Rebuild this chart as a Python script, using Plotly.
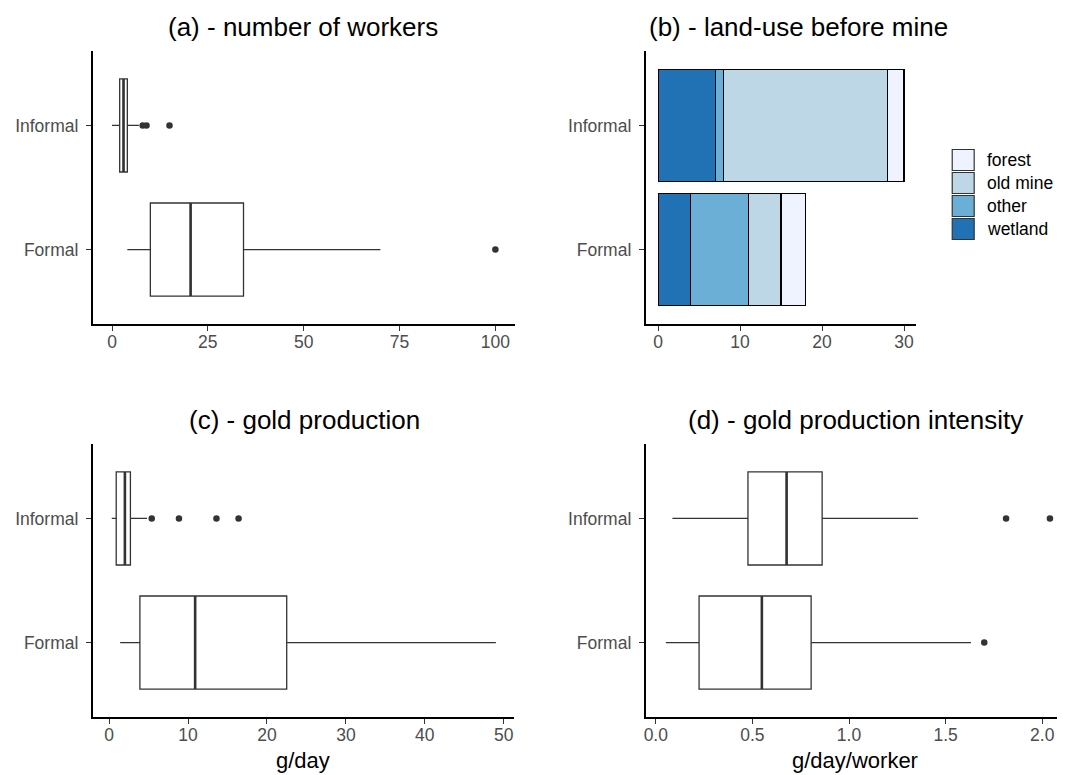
import plotly.graph_objects as go

W, H = 1065, 775
OFF = 8  # page body margin in the browser

groups = ["Formal", "Informal"]
group_pos = [1, 2]

# (a) number of workers: box statistics per group (Formal, Informal)
workers_lf = [4, 0]
workers_q1 = [10, 2]
workers_med = [20.5, 3]
workers_q3 = [34.3, 4]
workers_uf = [70, 7]
workers_out = [[100], [8, 9, 15]]

# (b) land-use before mine (counts)
landuse_cats = ["wetland", "other", "old mine", "forest"]
landuse_colors = ["#2171b5", "#6baed6", "#bdd7e7", "#eff3ff"]
landuse_formal = [4, 7, 4, 3]
landuse_informal = [7, 1, 20, 2]

# (c) gold production g/day
prod_lf = [1.4, 0.34]
prod_q1 = [3.9, 0.9]
prod_med = [10.9, 2.0]
prod_q3 = [22.5, 2.7]
prod_uf = [49.0, 4.8]
prod_out = [[], [5.4, 8.85, 13.6, 16.4]]

# (d) gold production intensity g/day/worker
int_lf = [0.052, 0.086]
int_q1 = [0.224, 0.477]
int_med = [0.549, 0.677]
int_q3 = [0.804, 0.861]
int_uf = [1.631, 1.357]
int_out = [[1.70], [1.813, 2.04]]

titles = ["(a) - number of workers", "(b) - land-use before mine",
          "(c) - gold production", "(d) - gold production intensity"]
xtitles = ["g/day", "g/day/worker"]

FONT = "Liberation Sans, Arial, Helvetica, sans-serif"
BOXW = 0.75
LINE = "#333333"

def px(x):
    return (x - OFF) / W

def py(y):
    return 1 - (y - OFF) / H

fig = go.Figure()

def add_boxes(xa, ya, lf, q1, med, q3, uf, outs):
    fig.add_trace(go.Box(
        y=group_pos, q1=q1, median=med, q3=q3, lowerfence=lf, upperfence=uf,
        orientation="h", width=BOXW, whiskerwidth=0, fillcolor="white",
        line=dict(color=LINE, width=1.3), boxpoints=False, hoverinfo="skip",
        xaxis=xa, yaxis=ya, showlegend=False))
    for p, m in zip(group_pos, med):
        fig.add_trace(go.Scatter(
            x=[m, m], y=[p - BOXW / 2, p + BOXW / 2], mode="lines",
            line=dict(color=LINE, width=2.6), xaxis=xa, yaxis=ya,
            showlegend=False, hoverinfo="skip"))
    ox, oy = [], []
    for p, o in zip(group_pos, outs):
        ox += o
        oy += [p] * len(o)
    fig.add_trace(go.Scatter(
        x=ox, y=oy, mode="markers", marker=dict(color=LINE, size=6.5),
        xaxis=xa, yaxis=ya, showlegend=False, hoverinfo="skip",
        cliponaxis=False))

add_boxes("x", "y", workers_lf, workers_q1, workers_med, workers_q3, workers_uf, workers_out)
add_boxes("x3", "y3", prod_lf, prod_q1, prod_med, prod_q3, prod_uf, prod_out)
add_boxes("x4", "y4", int_lf, int_q1, int_med, int_q3, int_uf, int_out)

for i, cat in enumerate(landuse_cats):
    fig.add_trace(go.Bar(
        x=[landuse_formal[i], landuse_informal[i]], y=group_pos,
        orientation="h", width=0.9, name=cat,
        marker=dict(color=landuse_colors[i], line=dict(color="black", width=1.2)),
        xaxis="x2", yaxis="y2", showlegend=False, hoverinfo="skip"))

# panel pixel boxes: (left, right, top, bottom)
panels = {
    "": (91, 513.5, 51, 324),
    "2": (645, 916, 51, 324),
    "3": (91, 513, 444, 717),
    "4": (645, 1065, 444, 717),
}
xranges = {"": [-5, 105], "2": [-1.5, 31.5], "3": [-2.06, 51.3], "4": [-0.0517, 2.118]}
xticks = {"": [0, 25, 50, 75, 100], "2": [0, 10, 20, 30],
          "3": [0, 10, 20, 30, 40, 50], "4": [0, 0.5, 1.0, 1.5, 2.0]}

layout = dict(width=W, height=H, margin=dict(l=0, r=0, t=0, b=0),
              paper_bgcolor="white", plot_bgcolor="white", barmode="stack",
              font=dict(family=FONT, color="black"), showlegend=False)

for k, (l, r, t, b) in panels.items():
    xa = "xaxis" + k
    ya = "yaxis" + k
    layout[xa] = dict(domain=[px(l), px(r)], range=xranges[k], anchor="y" + k,
                      showline=True, linecolor="black", linewidth=2,
                      ticks="outside", ticklen=5, tickwidth=1.3, tickcolor=LINE,
                      tickvals=xticks[k], tickfont=dict(size=17.5, color="#4d4d4d"),
                      tickformat=".1f" if k == "4" else None,
                      ticklabelstandoff=-4,
                      showgrid=False, zeroline=False, fixedrange=True)
    layout[ya] = dict(domain=[py(b), py(t)], range=[0.4, 2.6], anchor="x" + k,
                      showline=True, linecolor="black", linewidth=2,
                      ticks="outside", ticklen=5, tickwidth=1.3, tickcolor=LINE,
                      tickvals=group_pos, ticktext=groups,
                      tickfont=dict(size=17.5, color="#4d4d4d"),
                      ticklabelstandoff=4,
                      showgrid=False, zeroline=False, fixedrange=True)

fig.update_layout(**layout)

# titles
title_pos = [(302, 27), (798, 27), (303, 420), (855, 420)]
for txt, (x, y) in zip(titles, title_pos):
    fig.add_annotation(text=txt, x=px(x), y=py(y), xref="paper", yref="paper",
                       xanchor="center", yanchor="middle", showarrow=False,
                       font=dict(size=26, color="black", family=FONT))

for txt, x in zip(xtitles, [302, 855]):
    fig.add_annotation(text=txt, x=px(x), y=py(760), xref="paper", yref="paper",
                       xanchor="center", yanchor="middle", showarrow=False,
                       font=dict(size=22, color="black", family=FONT))

# legend for panel (b) (forest on top)
key_top = 149.5
key_h = 23
for j, i in enumerate(reversed(range(len(landuse_cats)))):
    y0 = key_top + j * key_h
    fig.add_shape(type="rect", xref="paper", yref="paper",
                  x0=px(952), x1=px(974), y0=py(y0 + 21), y1=py(y0),
                  fillcolor=landuse_colors[i], line=dict(color="#333333", width=1.2))
    fig.add_annotation(text=landuse_cats[i], x=px(985), y=py(y0 + 10.5),
                       xref="paper", yref="paper", xanchor="left", yanchor="middle",
                       showarrow=False, font=dict(size=17.5, color="black", family=FONT))

fig.write_html("out.html")
